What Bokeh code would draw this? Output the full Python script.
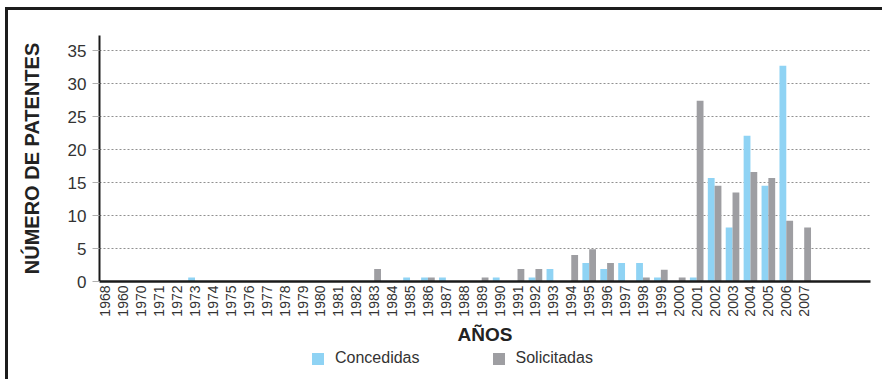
import math

from bokeh.embed import file_html
from bokeh.layouts import column
from bokeh.models import (ColumnDataSource, FixedTicker, Legend, LegendItem,
                          Range1d)
from bokeh.plotting import figure
from bokeh.resources import INLINE
from bokeh.transform import dodge

# Patent counts per year (granted vs. applied)
years = ["1968", "1960", "1970", "1971", "1972", "1973", "1974", "1975",
         "1976", "1977", "1978", "1979", "1980", "1981", "1982", "1983",
         "1984", "1985", "1986", "1987", "1988", "1989", "1990", "1991",
         "1992", "1993", "1994", "1995", "1996", "1997", "1998", "1999",
         "2000", "2001", "2002", "2003", "2004", "2005", "2006", "2007"]

concedidas = [0, 0, 0, 0, 0, 0.6, 0, 0,
              0, 0, 0, 0, 0, 0, 0, 0,
              0, 0.6, 0.6, 0.6, 0, 0, 0.6, 0,
              0.6, 1.9, 0, 2.8, 1.9, 2.8, 2.8, 0.6,
              0, 0.6, 15.7, 8.2, 22.1, 14.5, 32.7, 0]

solicitadas = [0, 0, 0, 0, 0, 0, 0, 0,
               0, 0, 0, 0, 0, 0, 0, 1.9,
               0, 0, 0.6, 0, 0, 0.6, 0, 1.9,
               1.9, 0, 4.0, 4.9, 2.8, 0, 0.6, 1.8,
               0.6, 27.4, 14.5, 13.5, 16.6, 15.7, 9.2, 8.2]

series_names = ["Concedidas", "Solicitadas"]
y_ticks = [0, 5, 10, 15, 20, 25, 30, 35]

FONT = "Liberation Sans"
BLUE = "#8fd3f4"
GRAY = "#9e9ea2"

idx = list(range(len(years)))
src = ColumnDataSource(dict(x=idx, concedidas=concedidas, solicitadas=solicitadas))

# ---- main bar chart -------------------------------------------------------
p = figure(frame_width=771, frame_height=246,
           output_backend="svg", toolbar_location=None,
           x_range=Range1d(-0.33, 42.7), y_range=Range1d(0, 37.3),
           min_border_left=91, min_border_right=12,
           min_border_top=25, min_border_bottom=65)
p.outline_line_color = None
p.background_fill_color = "white"
p.border_fill_color = "white"

p.vbar(x=dodge("x", -0.19, range=p.x_range), top="concedidas", width=0.38,
       source=src, fill_color=BLUE, line_color=None)
p.vbar(x=dodge("x", 0.19, range=p.x_range), top="solicitadas", width=0.38,
       source=src, fill_color=GRAY, line_color=None)

# grid
p.xgrid.visible = False
p.ygrid.grid_line_color = "#909090"
p.ygrid.grid_line_dash = "2 2"
p.ygrid.grid_line_width = 1

# y axis
yax = p.yaxis[0]
yax.ticker = FixedTicker(ticks=y_ticks)
yax.major_tick_out = 7
yax.major_tick_in = 0
yax.major_tick_line_color = "#b0b0b0"
yax.minor_tick_line_color = None
yax.axis_line_color = "#1a1a1a"
yax.axis_line_width = 2
yax.major_label_text_font = FONT
yax.major_label_text_font_size = "17px"
yax.major_label_text_color = "#333333"
yax.major_label_standoff = 6
yax.axis_label = "NÚMERO DE PATENTES"
yax.axis_label_text_font = FONT
yax.axis_label_text_font_style = "bold"
yax.axis_label_text_font_size = "20px"
yax.axis_label_text_color = "#222222"
yax.axis_label_standoff = 22

# x axis
xax = p.xaxis[0]
xax.ticker = FixedTicker(ticks=idx)
xax.major_label_overrides = {i: y for i, y in zip(idx, years)}
xax.major_label_orientation = math.pi / 2
xax.major_tick_out = 0
xax.major_tick_in = 0
xax.minor_tick_line_color = None
xax.axis_line_color = "#1a1a1a"
xax.axis_line_width = 2.5
xax.major_label_text_font = FONT
xax.major_label_text_font_size = "14px"
xax.major_label_text_color = "#333333"
xax.major_label_standoff = 4
xax.axis_label = "AÑOS"
xax.axis_label_text_font = FONT
xax.axis_label_text_font_style = "bold"
xax.axis_label_text_font_size = "19px"
xax.axis_label_text_color = "#222222"
xax.axis_label_standoff = 4

# ---- legend strip under the chart ----------------------------------------
# The key renderers share the bar data but sit outside this strip's y range,
# so only their legend swatches show.
leg = figure(frame_width=874, frame_height=33, min_border=0,
             output_backend="svg", toolbar_location=None,
             x_axis_type=None, y_axis_type=None,
             x_range=Range1d(-0.33, 42.7), y_range=Range1d(100, 101))
leg.outline_line_color = None
leg.grid.visible = False
leg.background_fill_color = "white"
leg.border_fill_color = "white"

key_con = leg.vbar(x="x", top="concedidas", width=0.38, source=src,
                   fill_color=BLUE, line_color=None)
key_sol = leg.vbar(x="x", top="solicitadas", width=0.38, source=src,
                   fill_color=GRAY, line_color=None)

legend = Legend(items=[LegendItem(label=series_names[0], renderers=[key_con]),
                       LegendItem(label=series_names[1], renderers=[key_sol])],
                orientation="horizontal", location=(302, 13),
                glyph_width=15, glyph_height=15, label_standoff=10, spacing=71,
                padding=0, margin=0, border_line_color=None,
                background_fill_alpha=0,
                label_text_font=FONT, label_text_font_size="16px",
                label_text_color="#333333")
leg.add_layout(legend)

# framed page look: heavy rule along the top and left edges
page = column(p, leg, spacing=0,
              styles={"margin-left": "5px", "margin-top": "7px",
                      "border-top": "3px solid #1c1c1c",
                      "border-left": "3px solid #1c1c1c"})

open("out.html", "w").write(file_html(page, INLINE))
